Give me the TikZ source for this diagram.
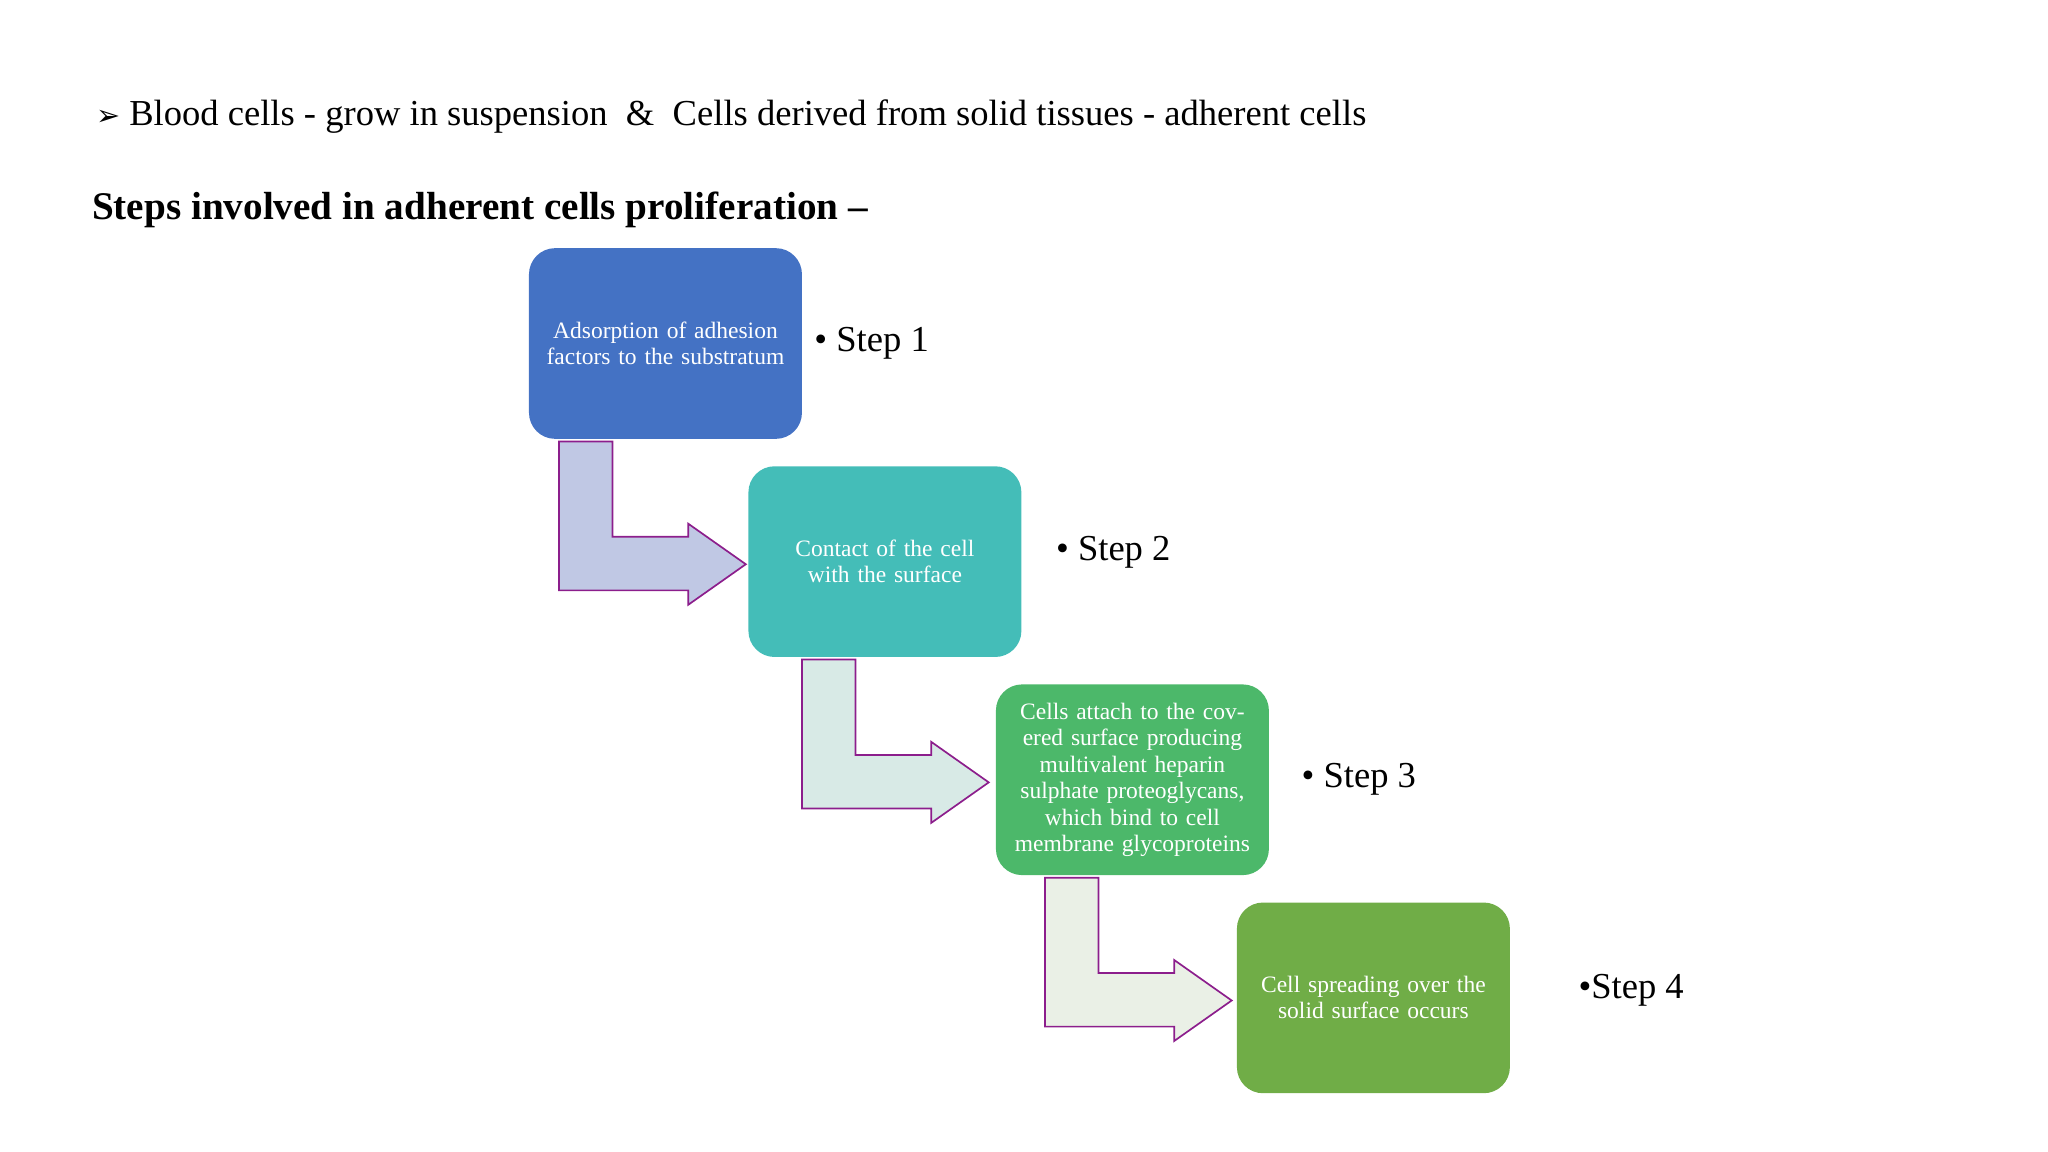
\documentclass[tikz,border=0pt]{standalone}
\usepackage{fontspec}
\setmainfont{Liberation Serif}
\newfontfamily\symfont{DejaVu Sans}
\begin{document}
\begin{tikzpicture}[x=1pt,y=-1pt,
  boxs/.style={rounded corners=20pt,minimum width=209pt,minimum height=146pt,text width=190pt,align=center,text=white,font=\fontsize{18}{20}\selectfont,inner sep=0pt},
  arr/.style={draw={rgb,255:red,140;green,30;blue,140},line width=1.3pt},
  lab/.style={anchor=west,font=\fontsize{28}{32}\selectfont}]
\useasboundingbox (0,0) rectangle (1568,882);
\definecolor{c1}{HTML}{4472C4}\definecolor{c2}{HTML}{44BDB8}
\definecolor{c3}{HTML}{4CB86A}\definecolor{c4}{HTML}{70AD47}
\node[anchor=west,font=\fontsize{28}{32}\selectfont] (t1) at (70,89) {{\symfont\fontsize{22}{26}\selectfont ➢} Blood cells - grow in suspension \ \& \ Cells derived from solid tissues - adherent cells};
\node[anchor=west,font=\bfseries\fontsize{30}{34}\selectfont] (t2) at (67,161) {Steps involved in adherent cells proliferation –};
\node[boxs,fill=c1] (b1) at (509.5,263) {Adsorption of adhesion factors to the substratum};
\node[boxs,fill=c2] (b2) at (677.5,430) {Contact of the cell with the surface};
\node[boxs,fill=c3,font=\fontsize{18}{20.3}\selectfont] (b3) at (867,597) {Cells attach to the covered surface producing multivalent heparin sulphate proteoglycans, which bind to cell membrane glycoproteins};
\node[boxs,fill=c4] (b4) at (1051.5,764) {Cell spreading over the solid surface occurs};
\node[lab] (s1) at (620,263) {• Step 1};
\node[lab] (s2) at (805,423) {• Step 2};
\node[lab] (s3) at (993,597) {• Step 3};
\node[lab] (s4) at (1205,758) {•Step 4};
\draw[arr,fill={rgb,255:red,192;green,200;blue,228}] (428,338) -- (469,338) -- (469,411) -- (527,411) -- (527,401) -- (571,432) -- (527,463) -- (527,452) -- (428,452) -- cycle;
\draw[arr,fill={rgb,255:red,216;green,234;blue,230}] (614,505) -- (655,505) -- (655,578) -- (713,578) -- (713,568) -- (757,599) -- (713,630) -- (713,619) -- (614,619) -- cycle;
\draw[arr,fill={rgb,255:red,234;green,240;blue,230}] (800,672) -- (841,672) -- (841,745) -- (899,745) -- (899,735) -- (943,766) -- (899,797) -- (899,786) -- (800,786) -- cycle;
\end{tikzpicture}
\end{document}
